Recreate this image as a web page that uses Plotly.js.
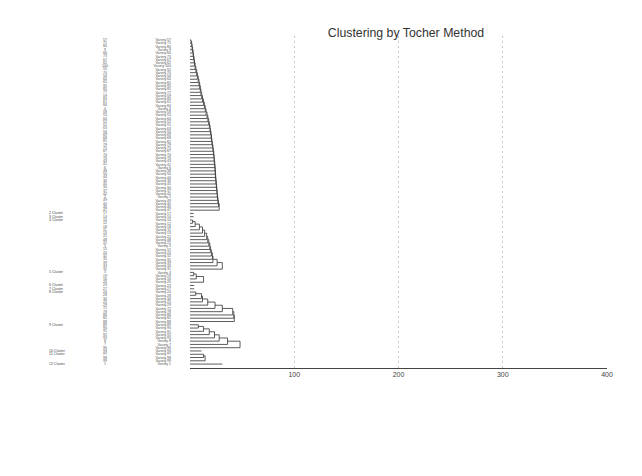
<!DOCTYPE html>
<html>
<head>
<meta charset="utf-8">
<script src="https://cdn.plot.ly/plotly-3.0.1.min.js"></script>
<style>html,body{margin:0;padding:0;background:#fff;}#chart{width:642px;height:476px;}</style>
</head>
<body>
<div id="chart"></div>
<script>
// Variety numbers in leaf order, top to bottom
var varietyOrder = [57,71,80,9,66,73,67,62,100,55,70,54,60,65,95,85,77,59,83,61,
  84,4,58,53,64,52,51,63,56,69,68,81,79,75,87,74,76,43,41,6,
  38,50,44,36,45,30,37,42,2,49,40,46,47,
  17,14,
  10,12,18,11,13,21,48,22,5,15,20,32,35,39,33,31,
  3,19,16,26,
  23,27,
  24,28,34,25,29,72,78,86,82,88,
  89,90,91,92,93,8,7,96,
  94,97,98,99,1];

// Number of leaves in each cluster (1..12)
var clusterSizes = [53,1,1,16,4,1,1,10,8,1,3,1];
var clusterNames = ["1 Cluster","2 Cluster","3 Cluster","4 Cluster","5 Cluster","6 Cluster",
  "7 Cluster","8 Cluster","9 Cluster","10 Cluster","11 Cluster","12 Cluster"];
var showClusterLabel = [false,true,true,true,true,true,true,true,true,true,true,true];

// Joining distances within each cluster (for singletons: stub length)
var joins1 = [1.0,1.6,2.0,2.5,3.0,3.4,3.9,4.3,4.9,5.6,6.4,7.1,7.9,8.6,9.3,9.9,10.5,11.2,12.0,12.9,
  13.8,14.6,15.4,16.3,17.1,17.9,18.6,19.2,19.7,20.2,20.6,21.0,21.5,22.0,22.4,22.8,23.1,23.4,23.7,24.0,
  24.2,24.4,24.6,24.9,25.2,25.5,25.8,26.1,26.4,26.8,27.3,28.0];
var joins2 = [3.5];
var joins3 = [3.5];
var joins4 = [2.5,5,9,12,14,16,17,18,19,19.5,20.5,21.5,22,26,31];
var joins5 = [3.5,6,13];
var joins6 = [4];
var joins7 = [4];
var joins8 = [5.5,11,12,17,24,31,41,42,42.5];
var joins9 = [8,13,18.5,23.5,28,36,48];
var joins10 = [11];
var joins11 = [13,14.5];
var joins12 = [31];
var clusterJoins = [joins1,joins2,joins3,joins4,joins5,joins6,joins7,joins8,joins9,joins10,joins11,joins12];

var xTicks = [100,200,300,400];

var FONT = 'Liberation Sans, Arial, sans-serif';

// Build dendrogram segments
var xs = [], ys = [];
function seg(x0,y0,x1,y1){ xs.push(x0,x1,null); ys.push(y0,y1,null); }
var leaf = 1;
var annotations = [];
for (var c = 0; c < clusterSizes.length; c++) {
  var n = clusterSizes[c], j = clusterJoins[c];
  var first = leaf;
  if (showClusterLabel[c]) {
    annotations.push({xref:'paper', yref:'y', x:-0.3405, y:first, text:clusterNames[c],
      showarrow:false, xanchor:'left', yanchor:'middle', borderpad:0,
      font:{family:FONT, size:3.5, color:'#444'}});
  }
  if (n === 1) {
    seg(0, leaf, j[0], leaf);
  } else {
    var nodeY = leaf, nodeX = 0;
    for (var k = 1; k < n; k++) {
      var h = j[k-1], ly = leaf + k;
      seg(nodeX, nodeY, h, nodeY);
      seg(0, ly, h, ly);
      seg(h, nodeY, h, ly);
      nodeY = (nodeY + ly) / 2; nodeX = h;
    }
  }
  leaf += n;
}

var tickvals = [], ticktext = [];
for (var i = 0; i < varietyOrder.length; i++) {
  tickvals.push(i+1);
  ticktext.push('Variety ' + varietyOrder[i]);
  annotations.push({xref:'paper', yref:'y', x:-0.204, y:i+1, text:String(varietyOrder[i]),
    showarrow:false, xanchor:'center', yanchor:'middle', borderpad:0,
    font:{family:FONT, size:3.5, color:'#555'}});
}

var trace = {x:xs, y:ys, type:'scatter', mode:'lines',
  line:{color:'#333', width:0.8}, hoverinfo:'skip', showlegend:false};

var layout = {
  width:642, height:476,
  margin:{l:190, r:35, t:36, b:108},
  paper_bgcolor:'#fff', plot_bgcolor:'#fff',
  title:{text:'Clustering by Tocher Method', x:0.518, xref:'paper', xanchor:'center',
    y:0.931, yref:'container', yanchor:'middle',
    font:{family:FONT, size:12.3, color:'#333'}},
  xaxis:{range:[0,400], tickvals:xTicks, ticktext:xTicks.map(String),
    showgrid:true, gridcolor:'#bbb', griddash:'2px,3px', gridwidth:0.8,
    zeroline:false, showline:true, linecolor:'#444', linewidth:1,
    ticks:'', tickfont:{family:FONT, size:7, color:'#444'},
    fixedrange:true},
  yaxis:{range:[101.2,-0.2], tickvals:tickvals, ticktext:ticktext,
    showgrid:false, zeroline:false, showline:false, ticks:'',
    ticklabelstandoff:18,
    tickfont:{family:FONT, size:3.5, color:'#555'},
    fixedrange:true},
  annotations:annotations
};

Plotly.newPlot('chart', [trace], layout, {staticPlot:true, displayModeBar:false});
</script>
</body>
</html>
